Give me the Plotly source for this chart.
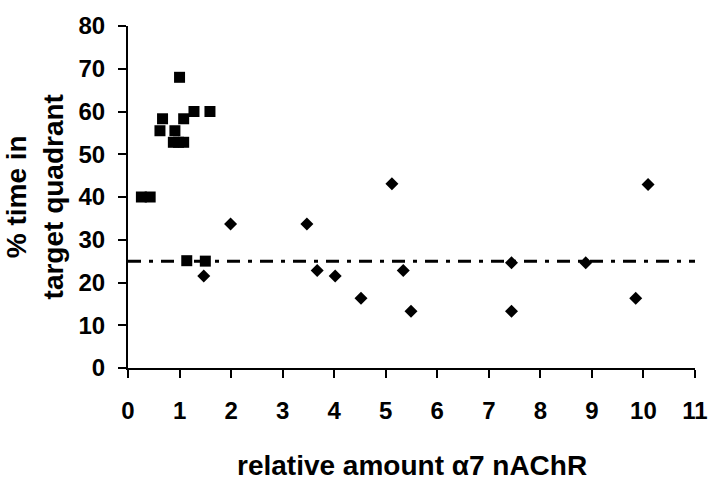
import plotly.graph_objects as go

# squares (cluster at low alpha7 amount)
square_x = [0.26, 0.43, 0.62, 0.67, 0.88, 0.91, 0.98, 1.00, 1.08, 1.08, 1.28, 1.59, 1.14, 1.50]
square_y = [40, 40, 55.5, 58.3, 52.8, 55.5, 52.8, 68, 52.8, 58.3, 60, 60, 25.1, 25]

# diamonds
diamond_x = [1.47, 1.99, 3.47, 3.67, 4.02, 4.52, 5.12, 5.34, 5.49, 7.44, 7.44, 8.88, 9.85, 10.09]
diamond_y = [21.5, 33.7, 33.7, 22.8, 21.5, 16.3, 43.1, 22.8, 13.3, 24.6, 13.3, 24.6, 16.3, 42.9]

chance_level = 25
x_ticks = list(range(0, 12))
y_ticks = list(range(0, 81, 10))

font_family = "Liberation Sans, Arial, sans-serif"

fig = go.Figure()
fig.add_trace(go.Scatter(
    x=square_x, y=square_y, mode='markers',
    marker=dict(symbol='square', size=11, color='black'),
))
fig.add_trace(go.Scatter(
    x=diamond_x, y=diamond_y, mode='markers',
    marker=dict(symbol='diamond', size=10, color='black'),
))

fig.add_hline(y=chance_level, line=dict(color='black', width=3, dash='13px,8px,4px,8px'))

axis_common = dict(
    showline=True, linecolor='black', linewidth=2,
    ticks='outside', ticklen=8, tickwidth=2, tickcolor='black',
    showgrid=False, zeroline=False, ticklabeloverflow='allow',
    tickfont=dict(family=font_family, size=24, color='black', weight='bold'),
)

fig.update_xaxes(range=[0, 11], tickvals=x_ticks, ticklabelstandoff=12, **axis_common)
fig.update_yaxes(range=[0, 80], tickvals=y_ticks, ticklabelstandoff=8, **axis_common)

fig.add_annotation(
    text='% time in<br>target quadrant', xref='paper', yref='paper',
    x=-0.165, y=0.5, xanchor='center', yanchor='middle', textangle=-90,
    showarrow=False, font=dict(family=font_family, size=28, color='black', weight='bold'),
)
fig.add_annotation(
    text='relative amount \u03b17 nAChR', xref='paper', yref='paper',
    x=0.5, y=-0.285, xanchor='center', yanchor='middle',
    showarrow=False, font=dict(family=font_family, size=28, color='black', weight='bold'),
)

fig.update_layout(
    width=720, height=484,
    margin=dict(l=128, r=14, t=13, b=116),
    plot_bgcolor='white', paper_bgcolor='white',
    showlegend=False,
)

# drop the browser's default 8px body margin so the figure sits at the page corner
fig.write_html("out.html", config={'displayModeBar': False},
               post_script="document.body.style.margin='0';")
